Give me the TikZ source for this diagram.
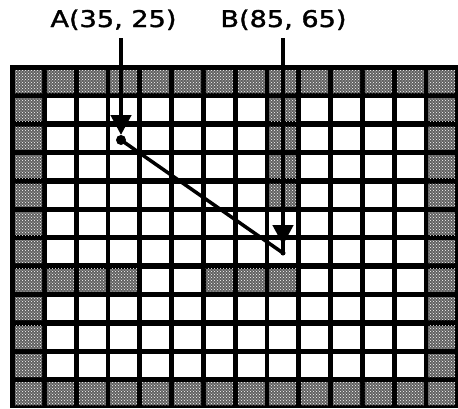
\documentclass[tikz,border=0pt]{standalone}
\usepackage{fontspec}
\usepackage{graphicx}
\setmainfont{DejaVu Sans}
\newfontfamily\lblfont[FakeBold=1.4]{DejaVu Sans}
\usetikzlibrary{arrows.meta,patterns}
\newcommand\gridcell[3]{\path[#3] ({15+31.8*#1},{70+28.4*#2}) rectangle ++(27,23);}
\begin{document}
\begin{tikzpicture}[x=1pt,y=-1pt,
  lbl/.style={font=\lblfont\fontsize{23}{28}\selectfont, inner sep=0pt, anchor=base},
  whitecell/.style={fill=white},
  graycell/.style={fill=black!62, postaction={pattern=crosshatch dots, pattern color=white}},
  ptdot/.style={circle, fill=black, inner sep=0pt},
  arr/.style={line width=4.5pt, -{Triangle[width=20pt,length=20pt]}},
  shaft/.style={line width=4.5pt},
  conn/.style={line width=3.5pt, line cap=round}]
\useasboundingbox (0,0) rectangle (458,408);
\fill[black] (10,65) rectangle (458,408);
% all cells white
\foreach \r in {0,...,11} {\foreach \c in {0,...,13} {\gridcell{\c}{\r}{whitecell}}}
% border walls
\foreach \c in {0,...,13} {\gridcell{\c}{0}{graycell}\gridcell{\c}{11}{graycell}}
\foreach \r in {1,...,10} {\gridcell{0}{\r}{graycell}\gridcell{13}{\r}{graycell}}
% inner walls
\foreach \r in {1,...,4} {\gridcell{8}{\r}{graycell}}
\foreach \c in {1,2,3,6,7,8} {\gridcell{\c}{7}{graycell}}
% labels
\node[lbl] (la) at (113.5,27) {\scalebox{1.18}[1]{A(35, 25)}};
\node[lbl] (lb) at (283.5,27) {\scalebox{1.18}[1]{B(85, 65)}};
\coordinate (ta) at (121,38);
\coordinate (tb) at (283,38);
\node[ptdot, minimum size=10pt] (adot) at (121,140) {};
\node[ptdot, minimum size=5pt] (bdot) at (283,253) {};
\draw[conn] (adot.center) -- (bdot.center);
\draw[arr, shorten >=5pt] (ta) -- (adot.center);
\draw[shaft] (tb) -- (bdot.center);
\draw[arr, shorten >=8pt] (tb) -- (bdot.center);
\end{tikzpicture}
\end{document}
